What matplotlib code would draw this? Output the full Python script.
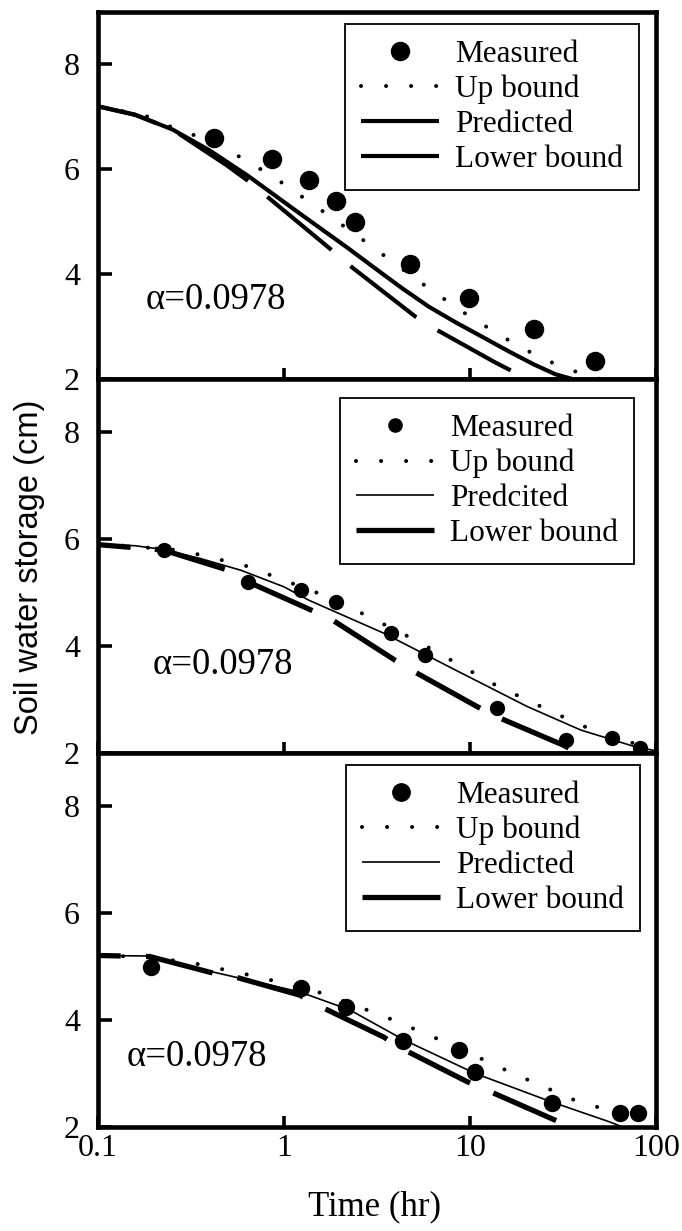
import matplotlib
matplotlib.use("Agg")
import matplotlib.pyplot as plt
from matplotlib.lines import Line2D
from matplotlib.ticker import NullLocator

plt.rcParams['font.family'] = ['Liberation Serif', 'DejaVu Serif']

# ---- Panel 1 (top) ----
top_meas_t = [0.42, 0.86, 1.36, 1.90, 2.40, 4.77, 9.9, 22.2, 46.7]
top_meas_v = [6.6, 6.2, 5.8, 5.4, 5.0, 4.2, 3.55, 2.95, 2.35]
top_up_t = [0.1, 0.18, 0.25, 0.36, 0.515, 0.865, 1.46, 2.44, 5.33, 8.95, 14.7, 24.3, 40.4, 50.1]
top_up_v = [7.2, 7.02, 6.8, 6.6, 6.34, 5.87, 5.31, 4.75, 3.86, 3.30, 2.82, 2.39, 2.09, 2.0]
top_pred_t = [0.1, 0.158, 0.251, 0.398, 0.643, 1.19, 2.22, 3.2, 4.32, 6.0, 8.38, 11.7, 16.3, 22.0, 28.8, 35.5]
top_pred_v = [7.2, 7.04, 6.76, 6.36, 5.87, 5.18, 4.49, 4.07, 3.73, 3.38, 3.08, 2.80, 2.52, 2.28, 2.09, 2.0]
top_low_t = [0.1, 0.158, 0.251, 0.49, 0.646, 0.83, 1.86, 2.34, 5.13, 6.61, 13.6, 20.4]
top_low_v = [7.2, 7.04, 6.76, 6.08, 5.77, 5.45, 4.42, 4.12, 3.18, 2.94, 2.32, 2.0]

# ---- Panel 2 (middle) ----
mid_meas_t = [0.225, 0.64, 1.24, 1.90, 3.78, 5.70, 13.9, 32.7, 58, 82]
mid_meas_v = [5.8, 5.2, 5.05, 4.83, 4.25, 3.84, 2.84, 2.24, 2.29, 2.09]
mid_up_t = [0.1, 0.283, 0.628, 1.82, 5.04, 13.9, 39.4, 67.1, 100]
mid_up_v = [5.92, 5.79, 5.50, 4.89, 4.12, 3.26, 2.52, 2.23, 2.08]
mid_pred_t = [0.1, 0.158, 0.224, 0.355, 0.587, 1.0, 1.36, 3.45, 8.38, 20.3, 39.4, 76.7, 100]
mid_pred_v = [5.9, 5.88, 5.81, 5.64, 5.42, 5.11, 4.86, 4.24, 3.55, 2.87, 2.43, 2.12, 2.04]
mid_low_t = [0.1, 0.224, 0.482, 0.643, 1.41, 1.82, 3.94, 5.15, 10.9, 13.9, 31.6, 38.0]
mid_low_v = [5.9, 5.8, 5.44, 5.20, 4.67, 4.49, 3.74, 3.50, 2.87, 2.68, 2.15, 2.0]

# ---- Panel 3 (bottom) ----
bot_meas_t = [0.193, 1.23, 2.16, 4.37, 8.7, 10.7, 27.6, 64.4, 79.6]
bot_meas_v = [5.0, 4.61, 4.24, 3.61, 3.44, 3.03, 2.44, 2.27, 2.27]
bot_up_t = [0.1, 0.19, 0.333, 0.726, 1.62, 3.52, 7.69, 16.6, 36.6, 47.9, 70.8]
bot_up_v = [5.21, 5.18, 5.06, 4.81, 4.50, 4.06, 3.56, 3.02, 2.50, 2.38, 2.12]
bot_pred_t = [0.1, 0.19, 0.416, 1.21, 2.26, 4.41, 10.7, 27.4, 55.8, 66.1]
bot_pred_v = [5.21, 5.20, 4.90, 4.53, 4.19, 3.63, 3.00, 2.47, 2.10, 2.0]
bot_low_t = [0.1, 0.19, 0.416, 0.556, 1.21, 1.60, 3.45, 4.12, 9.62, 12.3, 31.3, 33.9]
bot_low_v = [5.21, 5.19, 4.88, 4.80, 4.47, 4.24, 3.68, 3.50, 2.85, 2.69, 2.07, 2.0]

x_ticks = [0.1, 1, 10, 100]
x_tick_labels = ['0.1', '1', '10', '100']
y_ticks = [2, 4, 6, 8]
legend_labels_top = ['Measured', 'Up bound', 'Predicted', 'Lower bound']
legend_labels_mid = ['Measured', 'Up bound', 'Predcited', 'Lower bound']
legend_labels_bot = ['Measured', 'Up bound', 'Predicted', 'Lower bound']
alpha_text = '\u03b1=0.0978'

panels = [
    dict(meas=(top_meas_t, top_meas_v), up=(top_up_t, top_up_v),
         pred=(top_pred_t, top_pred_v), low=(top_low_t, top_low_v),
         labels=legend_labels_top, ms=13, leg_ms=13,
         pred_lw=3.0, low_lw=3.0, low_ls=(5.3, (20.0, 6.0)),
         rect=[0.1437, 0.6921, 0.8182, 0.2982],
         anchor=(0.9695, 0.967), text_pos=(0.086, 0.216)),
    dict(meas=(mid_meas_t, mid_meas_v), up=(mid_up_t, mid_up_v),
         pred=(mid_pred_t, mid_pred_v), low=(mid_low_t, mid_low_v),
         labels=legend_labels_mid, ms=10, leg_ms=9.5,
         pred_lw=1.2, low_lw=3.8, low_ls=(7.6, (13.8, 4.6)),
         rect=[0.1437, 0.3883, 0.8182, 0.3038],
         anchor=(0.9606, 0.949), text_pos=(0.097, 0.236)),
    dict(meas=(bot_meas_t, bot_meas_v), up=(bot_up_t, bot_up_v),
         pred=(bot_pred_t, bot_pred_v), low=(bot_low_t, bot_low_v),
         labels=legend_labels_bot, ms=11.5, leg_ms=12.5,
         pred_lw=1.2, low_lw=3.8, low_ls=(8.7, (13.0, 4.8)),
         rect=[0.1437, 0.0845, 0.8182, 0.3038],
         anchor=(0.971, 0.968), text_pos=(0.052, 0.187)),
]

fig = plt.figure(figsize=(6.82, 12.31), dpi=100)

for i, p in enumerate(panels):
    ax = fig.add_axes(p['rect'])
    ax.set_xscale('log')
    ax.set_xlim(0.1, 100)
    ax.set_ylim(2, 9)

    up_lw = 2.9
    up_ls = (0, (0.01, 18.0 / up_lw))
    l_meas, = ax.plot(*p['meas'], linestyle='none', marker='o', ms=p['ms'],
                      color='black', zorder=5, label=p['labels'][0])
    l_up, = ax.plot(*p['up'], color='black', lw=up_lw, linestyle=up_ls,
                    dash_capstyle='round', zorder=3, label=p['labels'][1])
    l_pred, = ax.plot(*p['pred'], color='black', lw=p['pred_lw'],
                      solid_capstyle='butt', solid_joinstyle='round',
                      zorder=4, label=p['labels'][2])
    ax.plot(*p['low'], color='black', lw=p['low_lw'],
            linestyle=p['low_ls'], dash_capstyle='butt', zorder=3)

    # legend key for the lower bound: one full dash
    low_key = Line2D([], [], color='black', lw=p['low_lw'],
                     solid_capstyle='butt', label=p['labels'][3])

    ax.set_xticks(x_ticks)
    ax.set_xticklabels(x_tick_labels)
    ax.xaxis.set_minor_locator(NullLocator())
    ax.set_yticks(y_ticks)
    ax.yaxis.set_minor_locator(NullLocator())
    ax.tick_params(axis='both', direction='in', width=2.6, colors='black',
                   labelsize=23)
    ax.tick_params(axis='y', length=10, pad=13)
    ax.tick_params(axis='x', length=8, pad=5)
    ax.tick_params(top=False, right=False)
    if i < 2:
        ax.tick_params(labelbottom=False)
    for s in ax.spines.values():
        s.set_linewidth(3.3)
        s.set_color('black')

    ax.text(p['text_pos'][0], p['text_pos'][1], alpha_text,
            transform=ax.transAxes, fontsize=26.5, ha='left', va='center')

    leg = ax.legend(handles=[l_meas, l_up, l_pred, low_key],
                    loc='upper right', bbox_to_anchor=p['anchor'],
                    borderaxespad=0, fontsize=22.5, frameon=True,
                    fancybox=False, shadow=False, framealpha=1,
                    edgecolor='black', handlelength=2.5, handletextpad=0.5,
                    borderpad=0.52, labelspacing=0.18, numpoints=1,
                    markerscale=p['leg_ms'] / p['ms'])
    leg.get_frame().set_linewidth(1.3)

fig.text(30 / 682, 1 - 567 / 1231, 'Soil water storage (cm)', rotation=90,
         ha='center', va='center', fontsize=23.5,
         family=['Liberation Sans', 'DejaVu Sans'])
fig.text(375 / 682, 1 - 1207 / 1231, 'Time (hr)', ha='center', va='center',
         fontsize=25)

fig.savefig('out.png', dpi=100, facecolor='white')
